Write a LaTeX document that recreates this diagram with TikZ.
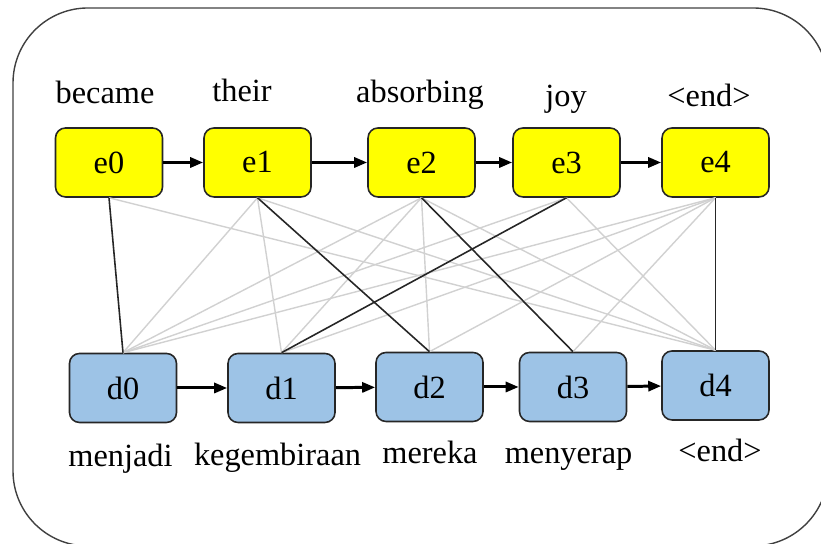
\documentclass[tikz,border=0pt]{standalone}
\usepackage{fontspec}
\setmainfont{Liberation Serif}
\usetikzlibrary{arrows.meta}

\definecolor{srcyellow}{RGB}{255,255,0}
\definecolor{tgtblue}{RGB}{157,195,230}

\tikzset{
  tok/.style={draw=black!85, line width=0.45pt, rounded corners=0.1cm,
    minimum width=1.07cm, minimum height=0.69cm, inner sep=0pt},
  word/.style={anchor=base, inner sep=0pt},
  link/.style={draw=black!85, line width=0.45pt},
  weak/.style={draw=black!18, line width=0.4pt},
  seq/.style={line width=0.85pt, -{Triangle[length=0.13cm,width=0.1cm]}}
}

\begin{document}
\begin{tikzpicture}[font=\fontsize{9.2}{11}\selectfont]
\useasboundingbox (0,0) rectangle (8.21,5.44);

% outer frame (runs past the right and bottom edge)
\begin{scope}
  \clip (0,0) rectangle (8.21,5.44);
  \draw[black!75, line width=0.4pt, rounded corners=0.75cm]
    (0.13,-0.02) rectangle (8.28,5.36);
\end{scope}

% source side
\foreach \i/\x in {0/1.09,1/2.575,2/4.215,3/5.665,4/7.155}
  \node[tok, fill=srcyellow] (e\i) at (\x,3.815) {e\i};

% target side
\foreach \i/\x/\y in {0/1.23/1.56,1/2.815/1.56,2/4.295/1.57,3/5.73/1.57,4/7.155/1.585}
  \node[tok, fill=tgtblue] (d\i) at (\x,\y) {d\i};

% words above / below
\node[word] (w0) at (1.05,4.40) {became};
\node[word] (w1) at (2.42,4.42) {their};
\node[word] (w2) at (4.20,4.41) {absorbing};
\node[word] (w3) at (5.66,4.37) {joy};
\node[word] (w4) at (7.09,4.37) {\textless end\textgreater};

\node[word] (m0) at (1.205,0.77) {menjadi};
\node[word] (m1) at (2.775,0.78) {kegembiraan};
\node[word] (m2) at (4.30,0.80) {mereka};
\node[word] (m3) at (5.685,0.80) {menyerap};
\node[word] (m4) at (7.20,0.82) {\textless end\textgreater};

% weak links
\foreach \a/\b in {0/4,1/0,1/1,1/4,2/0,2/1,2/2,2/4,3/0,3/4,4/0,4/1,4/2,4/3}
  \draw[weak] (e\a.south) -- (d\b.north);

% best link of each source token
\foreach \a/\b in {0/0,1/2,2/3,3/1,4/4}
  \draw[link] (e\a.south) -- (d\b.north);

% order inside each sentence
\foreach \i in {0,...,3}{
  \pgfmathtruncatemacro\j{\i+1}
  \draw[seq] (e\i) -- (e\j);
  \draw[seq] (d\i) -- (d\j);
}

\end{tikzpicture}
\end{document}
